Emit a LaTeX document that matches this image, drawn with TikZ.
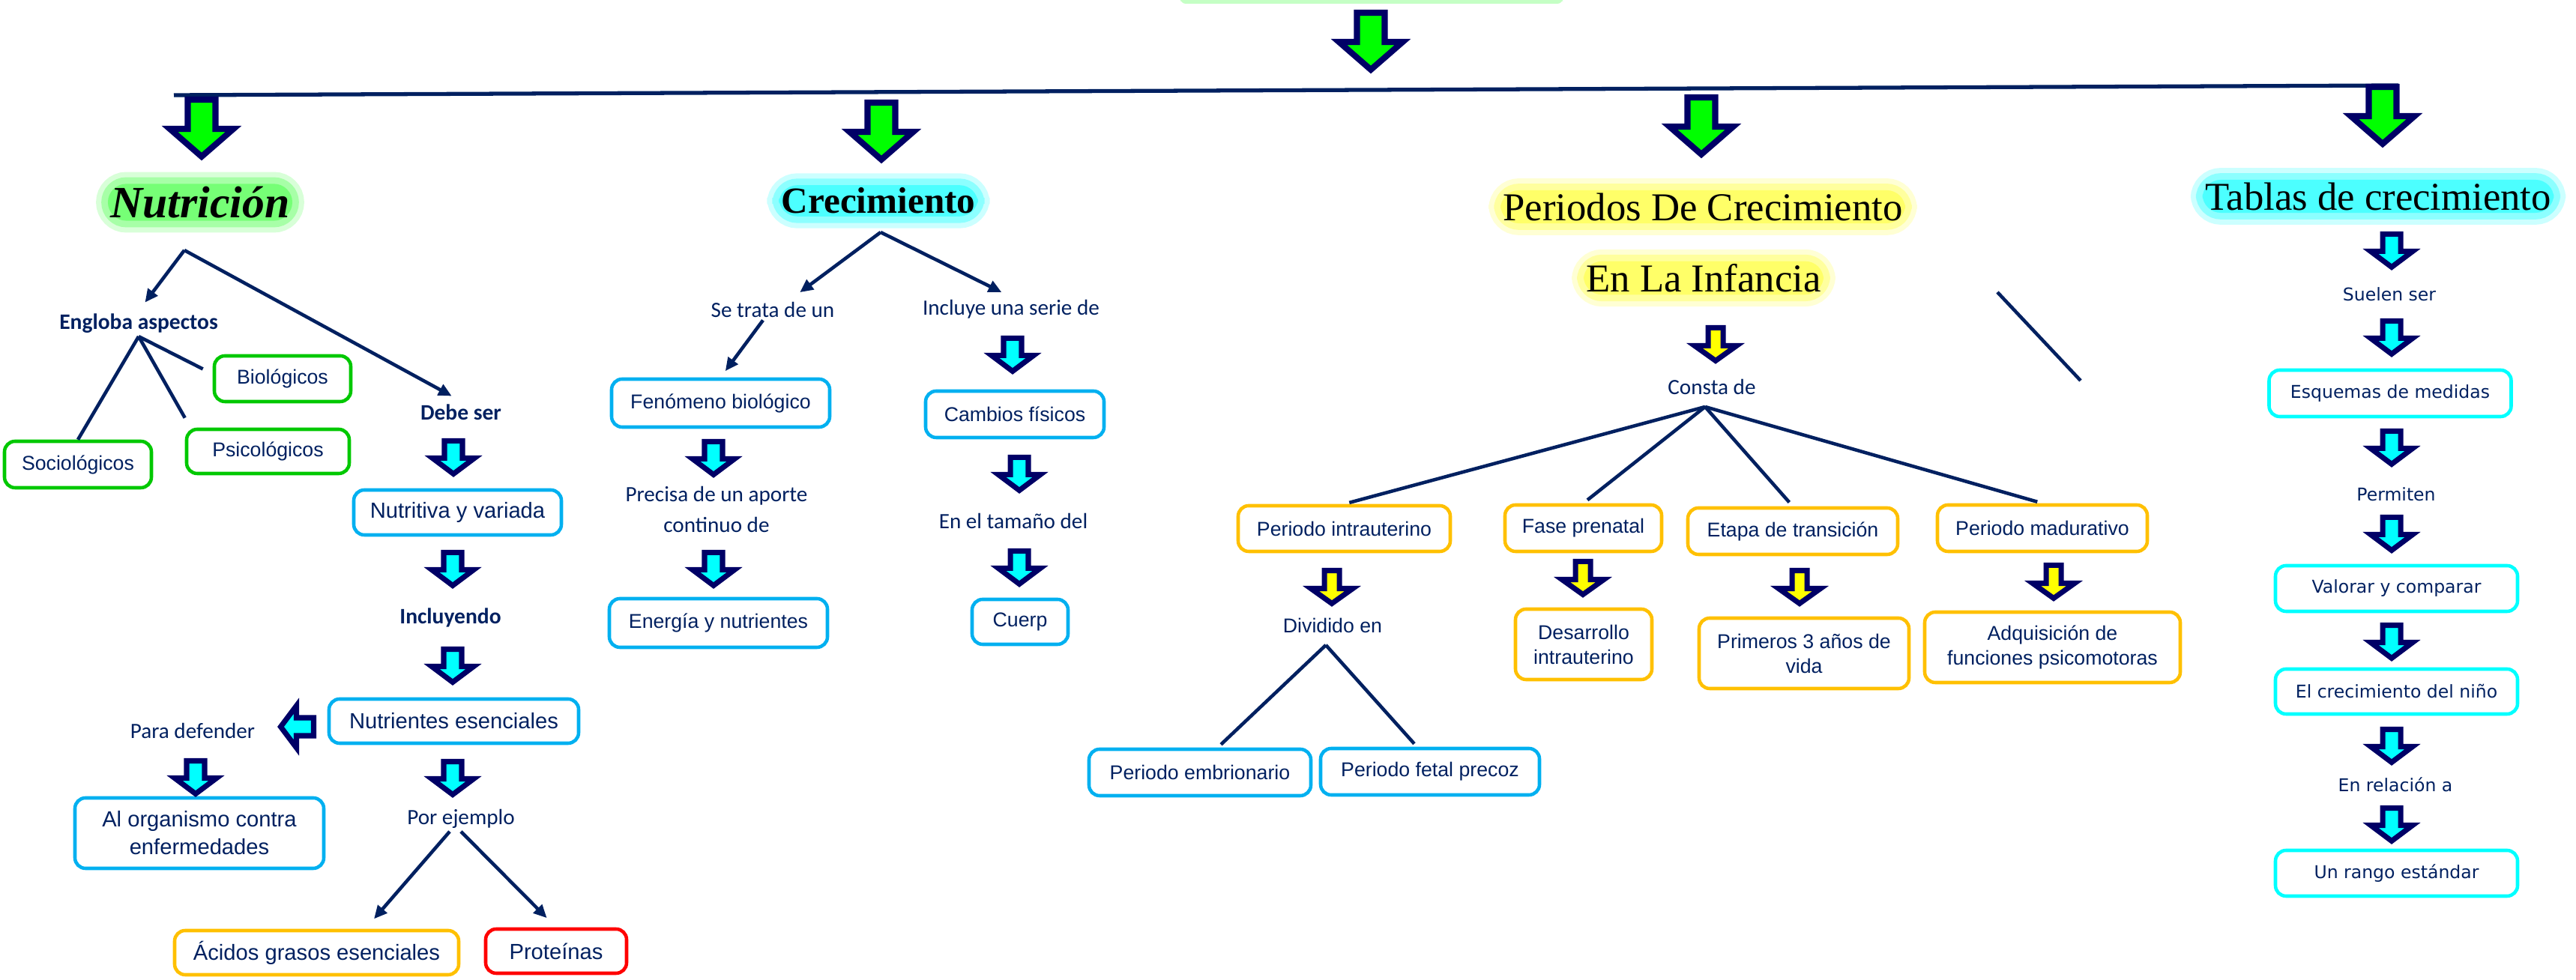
\documentclass[tikz,border=0pt]{standalone}
\usepackage{fontspec}
\setmainfont{Liberation Serif}
\newfontfamily\arialf{Liberation Sans}
\newfontfamily\calif{Carlito}
\newfontfamily\verdf{DejaVu Sans}
\usetikzlibrary{arrows.meta,positioning}

\definecolor{arrnavy}{RGB}{0,0,102}
\definecolor{linenavy}{RGB}{0,32,96}
\definecolor{txtblue}{RGB}{0,32,96}
\definecolor{boxgreen}{RGB}{0,200,0}
\definecolor{boxblue}{RGB}{0,176,240}
\definecolor{boxorange}{RGB}{255,192,0}
\definecolor{boxred}{RGB}{255,0,0}
\definecolor{boxcyan}{RGB}{0,255,255}
\definecolor{arrgreen}{RGB}{0,255,0}
\definecolor{arrcyan}{RGB}{0,255,255}
\definecolor{arryellow}{RGB}{255,255,0}
\definecolor{glowgreen}{RGB}{60,255,60}
\definecolor{glowcyan}{RGB}{0,255,255}
\definecolor{glowyellow}{RGB}{255,255,40}

\newcommand{\fntleft}{\arialf\fontsize{8.3}{10.5}\selectfont}
\newcommand{\fntmid}{\arialf\fontsize{7.6}{9.4}\selectfont}
\newcommand{\fntcal}{\calif\fontsize{8.3}{11.4}\selectfont}
\newcommand{\fntcalb}{\calif\bfseries\fontsize{8.4}{10}\selectfont}
\newcommand{\fntver}{\verdf\fontsize{6.7}{8}\selectfont}
\newcommand{\fnttitle}{\fontsize{15}{18}\selectfont}
\newcommand{\fntcrec}{\bfseries\fontsize{14}{17}\selectfont}
\newcommand{\fntnut}{\bfseries\itshape\fontsize{17}{20}\selectfont}

% block arrow: top centre, fill, shaft half width, head half width, shaft length, head length, line width
\newcommand{\blockarrow}[7]{
	\filldraw[draw=arrnavy, fill=#2, line width=#7, miter limit=10]
		(#1) ++(-#3,0) -- ++(2*#3,0) -- ++(0,-#5) -- ++(#4-#3,0)
		-- ++(-#4,-#6) -- ++(-#4,#6) -- ++(#4-#3,0) -- cycle;
}
\newcommand{\bigarrow}[1]{\blockarrow{#1}{arrgreen}{0.185}{0.425}{0.39}{0.37}{2.3pt}}
\newcommand{\cyanarrow}[1]{\blockarrow{#1}{arrcyan}{0.12}{0.28}{0.23}{0.21}{2pt}}
\newcommand{\yelarrow}[1]{\blockarrow{#1}{arryellow}{0.10}{0.28}{0.24}{0.20}{2pt}}

\tikzset{
	glow/.style={inner sep=1pt, rounded corners=7pt, fill=#1!70,
		preaction={draw=#1!20, line width=9pt},
		preaction={draw=#1!45, line width=5pt}},
	mapbox/.style={draw, rounded corners=4pt, line width=1.3pt, align=center,
		text=txtblue, inner sep=1pt, font=\fntmid},
	greenbox/.style={mapbox, draw=boxgreen},
	bluebox/.style={mapbox, draw=boxblue},
	orangebox/.style={mapbox, draw=boxorange},
	redbox/.style={mapbox, draw=boxred},
	cyanbox/.style={mapbox, draw=boxcyan, font=\fntver},
	lbl/.style={text=txtblue, font=\fntcal, inner sep=1pt, align=center},
	lblb/.style={lbl, font=\fntcalb},
	vlbl/.style={text=txtblue, font=\fntver, inner sep=1pt},
	conn/.style={draw=linenavy, line width=1.3pt, -{Triangle[length=5pt,width=4.5pt]}},
	branch/.style={draw=linenavy, line width=1.3pt},
}

\begin{document}
\begin{tikzpicture}
	\useasboundingbox (0,0) rectangle (34.37,13.08);
	\fill[glowgreen!30, rounded corners=2pt] (15.75,13.03) rectangle (20.85,13.12);

	\coordinate (lineL) at (2.32,11.81);
	\coordinate (lineR) at (32.00,11.94);
	\draw[branch, line width=1.5pt] (lineL) -- (lineR);

	\bigarrow{18.29,12.91}
	\bigarrow{2.69,11.75}
	\bigarrow{11.76,11.71}
	\bigarrow{22.70,11.78}
	\bigarrow{31.79,11.92}

	\node[glow=glowgreen, font=\fntnut] (nutric) at (2.67,10.38) {Nutrición};
	\node[glow=glowcyan, font=\fntcrec] (crec) at (11.72,10.40) {Crecimiento};
	\node[glow=glowyellow, font=\fnttitle] (period1) at (22.72,10.32) {Periodos De Crecimiento};
	\node[glow=glowyellow, font=\fnttitle] (period2) at (22.73,9.37) {En La Infancia};
	\node[glow=glowcyan, font=\fnttitle] (tablas) at (31.73,10.46) {Tablas de crecimiento};

	\node[lblb] (engl) at (1.85,8.76) {Engloba aspectos};
	\node[greenbox, minimum width=1.82cm, minimum height=0.61cm] (bio) at (3.77,8.025) {Biológicos};
	\node[greenbox, minimum width=2.17cm, minimum height=0.59cm] (psico) at (3.575,7.055) {Psicológicos};
	\node[greenbox, minimum width=1.96cm, minimum height=0.62cm] (socio) at (1.04,6.88) {Sociológicos};
	\node[lblb] (debe) at (6.15,7.58) {Debe ser};
	\node[bluebox, font=\fntleft, minimum width=2.77cm, minimum height=0.60cm] (nutri) at (6.105,6.24) {Nutritiva y variada};
	\node[lblb] (incl) at (6.01,4.84) {Incluyendo};
	\node[bluebox, font=\fntleft, minimum width=3.33cm, minimum height=0.59cm] (esenc) at (6.055,3.455) {Nutrientes esenciales};
	\node[lbl] (parad) at (2.57,3.33) {Para defender};
	\node[bluebox, font=\fntleft, minimum width=3.32cm, minimum height=0.94cm] (organ) at (2.66,1.96) {Al organismo contra\\enfermedades};
	\node[lbl] (porej) at (6.15,2.15) {Por ejemplo};
	\node[orangebox, font=\fntleft, minimum width=3.79cm, minimum height=0.59cm] (acidos) at (4.225,0.365) {Ácidos grasos esenciales};
	\node[redbox, font=\fntleft, minimum width=1.88cm, minimum height=0.59cm] (prot) at (7.42,0.385) {Proteínas};

	\node[lbl] (setrata) at (10.31,8.95) {Se trata de un};
	\node[lbl] (incluye) at (13.49,8.95) {Incluye una serie de};
	\node[bluebox, minimum width=2.91cm, minimum height=0.64cm] (feno) at (9.615,7.70) {Fenómeno biológico};
	\node[lbl] (precisa) at (9.56,6.28) {Precisa de un aporte\\continuo de};
	\node[bluebox, minimum width=2.91cm, minimum height=0.65cm] (energ) at (9.585,4.765) {Energía y nutrientes};
	\node[bluebox, minimum width=2.38cm, minimum height=0.62cm] (cambios) at (13.54,7.55) {Cambios físicos};
	\node[lbl] (tamano) at (13.52,6.13) {En el tamaño del};
	\node[bluebox, minimum width=1.28cm, minimum height=0.60cm] (cuerp) at (13.61,4.78) {Cuerp};

	\node[lbl] (consta) at (22.84,7.92) {Consta de};
	\coordinate (constaapex) at (22.75,7.65);
	\node[orangebox, minimum width=2.83cm, minimum height=0.61cm] (pintra) at (17.935,6.025) {Periodo intrauterino};
	\node[orangebox, minimum width=2.09cm, minimum height=0.62cm] (fase) at (21.125,6.03) {Fase prenatal};
	\node[orangebox, minimum width=2.80cm, minimum height=0.62cm] (etapa) at (23.92,5.99) {Etapa de transición};
	\node[orangebox, minimum width=2.80cm, minimum height=0.62cm] (madur) at (27.25,6.03) {Periodo madurativo};
	\node[lbl, font=\fntmid] (divid) at (17.78,4.73) {Dividido en};
	\coordinate (dividapex) at (17.69,4.47);
	\node[bluebox, minimum width=2.96cm, minimum height=0.62cm] (embr) at (16.01,2.77) {Periodo embrionario};
	\node[bluebox, minimum width=2.92cm, minimum height=0.62cm] (fetal) at (19.08,2.78) {Periodo fetal precoz};
	\node[orangebox, minimum width=1.82cm, minimum height=0.94cm] (desarr) at (21.13,4.48) {Desarrollo\\intrauterino};
	\node[orangebox, minimum width=2.80cm, minimum height=0.94cm] (prim) at (24.07,4.36) {Primeros 3 años de\\vida};
	\node[orangebox, minimum width=3.41cm, minimum height=0.94cm] (adqui) at (27.385,4.44) {Adquisición de\\funciones psicomotoras};
	\coordinate (strayA) at (26.65,9.18);
	\coordinate (strayB) at (27.76,8.00);

	\node[vlbl] (suelen) at (31.88,9.15) {Suelen ser};
	\node[cyanbox, minimum width=3.23cm, minimum height=0.62cm] (esquem) at (31.89,7.83) {Esquemas de medidas};
	\node[vlbl] (permit) at (31.97,6.48) {Permiten};
	\node[cyanbox, minimum width=3.23cm, minimum height=0.61cm] (valor) at (31.975,5.225) {Valorar y comparar};
	\node[cyanbox, minimum width=3.23cm, minimum height=0.60cm] (elcrec) at (31.975,3.85) {El crecimiento del niño};
	\node[vlbl] (enrel) at (31.96,2.61) {En relación a};
	\node[cyanbox, minimum width=3.23cm, minimum height=0.61cm] (rango) at (31.975,1.425) {Un rango estándar};

	\cyanarrow{6.05,7.195}
	\cyanarrow{6.04,5.705}
	\cyanarrow{6.04,4.415}
	\cyanarrow{6.04,2.915}
	\cyanarrow{2.61,2.925}
	\begin{scope}[rotate around={-90:(4.185,3.38)}]
		\cyanarrow{4.185,3.38}
	\end{scope}
	\cyanarrow{9.52,7.185}
	\cyanarrow{9.52,5.705}
	\cyanarrow{13.51,8.565}
	\cyanarrow{13.60,6.975}
	\cyanarrow{13.60,5.725}
	\foreach \ytop in {9.955,8.795,7.325,6.175,4.735,3.345,2.295}{
		\cyanarrow{31.91,\ytop}
	}
	\yelarrow{22.89,8.705}
	\yelarrow{17.77,5.465}
	\yelarrow{21.12,5.585}
	\yelarrow{24.01,5.465}
	\yelarrow{27.40,5.535}

	\coordinate (nutapex) at (2.46,9.74);
	\coordinate (crecapex) at (11.75,9.98);
	\draw[conn, shorten >=4pt] (nutapex) -- (engl.north);
	\draw[conn, shorten >=4pt] (nutapex) -- (debe.north);
	\draw[branch] (engl.south) -- (socio.north);
	\draw[branch] (engl.south) -- ([yshift=0.13cm]psico.north west);
	\draw[branch] (engl.south) -- ([xshift=-0.13cm,yshift=0.13cm]bio.west);
	\draw[conn, shorten >=4pt] (crecapex) -- ([xshift=0.25cm]setrata.north);
	\draw[conn, shorten >=4pt] (crecapex) -- (incluye.north);
	\draw[conn, shorten >=3pt] ([xshift=-0.13cm]setrata.south) -- (feno.north);
	\draw[conn, shorten >=5pt] ([xshift=-0.15cm]porej.south) -- ([xshift=0.65cm]acidos.north);
	\draw[conn, shorten >=5pt] (porej.south) -- (prot.north);
	\foreach \target in {pintra,fase,etapa,madur}{
		\draw[branch, shorten >=2pt] (constaapex) -- (\target.north);
	}
	\draw[branch] (dividapex) -- ([xshift=0.28cm,yshift=0.04cm]embr.north);
	\draw[branch] (dividapex) -- ([xshift=-0.21cm,yshift=0.04cm]fetal.north);
	\draw[branch] (strayA) -- (strayB);
\end{tikzpicture}
\end{document}
